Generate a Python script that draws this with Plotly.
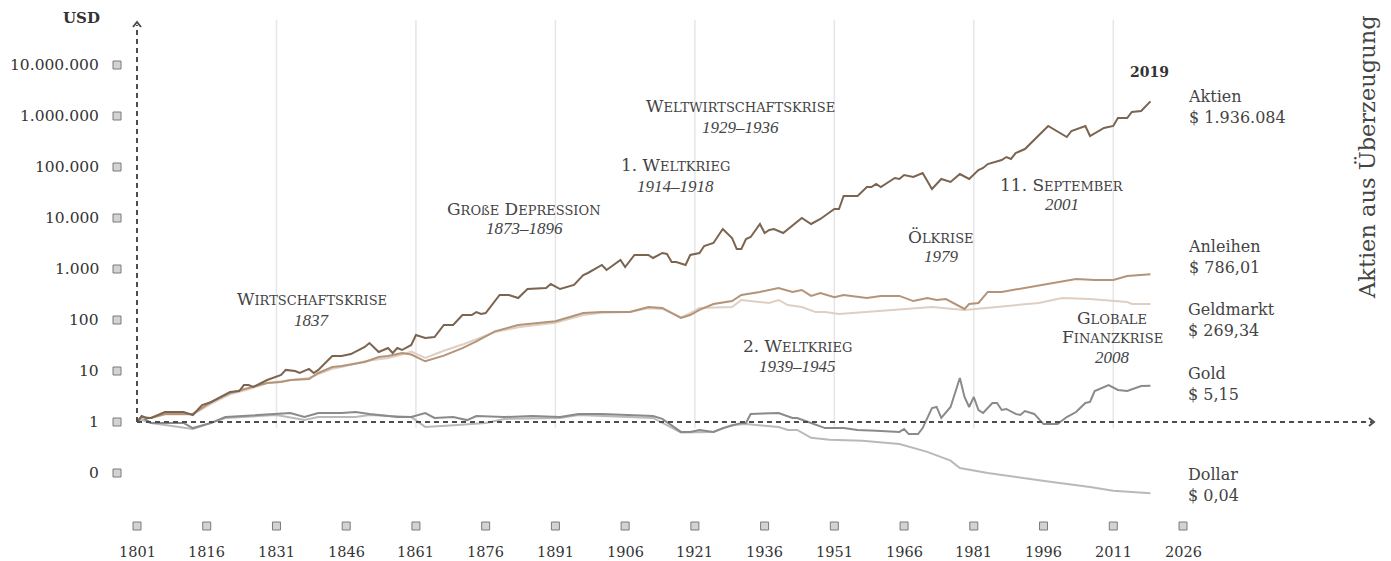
import math
import plotly.graph_objects as go

# ---------------- data ----------------
aktien_years = [1801,1802,1803,1804,1807,1811,1813,1815,1817,1821,
                1823,1824,1825,1826,1829,1832,1833,1835,1836,1838,
                1839,1840,1843,1845,1847,1850,1851,1853,1855,1856,
                1857,1858,1860,1861,1863,1865,1867,1869,1871,1873,
                1874,1875,1876,1879,1881,1883,1885,1889,1890,1892,
                1895,1897,1898,1901,1902,1905,1906,1908,1911,1912,
                1914,1915,1916,1917,1919,1920,1922,1923,1925,1927,
                1929,1930,1931,1932,1933,1935,1936,1937,1938,1940,
                1944,1946,1948,1951,1952,1953,1956,1958,1959,1960,
                1961,1964,1965,1966,1968,1970,1972,1974,1976,1978,
                1980,1982,1983,1984,1987,1988,1989,1990,1992,1997,
                2001,2002,2005,2006,2009,2011,2012,2014,2015,2017,
                2019]
aktien_values = [1.0,1.31,1.2,1.2,1.57,1.57,1.37,2.15,2.47,3.88,
                 4.05,5.31,5.31,4.86,6.66,8.35,10.5,10.0,9.14,11.0,
                 9.14,10.5,19.7,19.7,21.5,29.6,35.4,23.6,28.2,22.5,
                 28.2,25.8,32.4,50.8,44.4,46.4,79.8,79.8,125,125,
                 143,131,137,309,309,270,405,424,508,405,
                 486,763,835,1198,956,1501,1094,1882,1882,1643,
                 2060,1968,1372,1372,1198,1882,2060,2827,3236,6086,
                 4053,2467,2467,3875,4240,7630,5080,5820,6086,5080,
                 10000,7630,9560,15000,15000,27000,27000,40500,40500,46400,
                 40500,60900,58200,69700,63700,76300,37000,58200,50800,72900,
                 58200,87400,95600,114000,137000,157000,144000,188000,225000,637000,
                 387000,508000,637000,405000,582000,637000,914000,914000,1198000,1250000,
                 1936084]

anleihen_years = [1801,1802,1804,1807,1813,1817,1821,1825,1829,1832,
                  1834,1838,1840,1843,1845,1850,1853,1855,1858,1860,
                  1863,1867,1871,1874,1878,1883,1891,1897,1901,1907,
                  1911,1914,1918,1920,1922,1925,1929,1931,1935,1939,
                  1942,1944,1946,1948,1951,1953,1958,1961,1965,1968,
                  1971,1973,1975,1979,1980,1982,1984,1987,1993,1998,
                  2003,2007,2011,2014,2019]
anleihen_values = [1.0,1.25,1.2,1.44,1.44,2.47,3.7,4.64,5.81,6.08,
                   6.66,6.97,9.14,12.0,12.5,15.0,18.8,19.7,22.5,21.0,
                   15.5,20.0,28.0,38.0,60.0,80.0,95.0,137,143,143,
                   180,172,110,125,158,206,235,309,355,424,
                   355,388,297,338,281,309,270,297,297,235,
                   270,247,258,165,206,216,355,355,443,532,
                   638,610,610,730,786.01]

geldmarkt_years = [1801,1802,1804,1807,1813,1817,1821,1825,1829,1832,
                   1838,1840,1843,1845,1850,1853,1855,1858,1860,1863,
                   1867,1871,1874,1878,1883,1891,1897,1901,1907,1911,
                   1914,1918,1920,1922,1929,1931,1937,1939,1941,1944,
                   1947,1949,1952,1972,1979,1995,2000,2006,2014,2015,
                   2019]
geldmarkt_values = [1.0,1.2,1.2,1.4,1.4,2.3,3.5,4.4,5.8,6.3,
                    7.3,8.7,11.0,12.0,15.5,17.0,18.0,21.0,24.0,18.0,
                    25.0,33.0,42.0,58.0,72.0,88.0,125,138,143,170,
                    165,112,137,172,180,247,216,247,196,180,
                    143,143,131,180,157,216,270,258,225,206,
                    206]

gold_years = [1801,1802,1804,1808,1811,1813,1817,1820,1831,1834,
              1837,1840,1845,1848,1851,1857,1860,1863,1865,1869,
              1872,1874,1880,1886,1892,1896,1901,1912,1914,1918,
              1920,1922,1925,1927,1931,1932,1933,1939,1942,1943,
              1946,1949,1953,1956,1960,1965,1966,1967,1969,1970,
              1972,1973,1974,1976,1978,1979,1980,1981,1982,1983,
              1985,1986,1987,1988,1990,1991,1992,1994,1996,1999,
              2001,2003,2005,2006,2007,2008,2010,2012,2014,2017,
              2019]
gold_values = [1.0,1.25,0.96,0.96,0.96,0.76,0.96,1.25,1.44,1.5,
               1.25,1.5,1.5,1.57,1.44,1.25,1.25,1.5,1.2,1.25,
               1.09,1.31,1.25,1.31,1.25,1.44,1.44,1.31,1.15,0.64,
               0.64,0.70,0.64,0.76,0.955,0.955,1.44,1.5,1.2,1.2,
               0.955,0.76,0.76,0.70,0.67,0.64,0.73,0.58,0.58,0.76,
               1.88,1.97,1.2,1.97,7.3,3.09,1.97,3.09,1.72,1.5,
               2.36,2.36,1.72,1.8,1.44,1.37,1.64,1.44,0.91,0.91,
               1.25,1.57,2.36,2.47,4.05,4.43,5.3,4.24,4.05,5.08,
               5.15]

dollar_years = [1801,1802,1804,1813,1820,1831,1837,1840,1848,1851,
                1860,1863,1870,1876,1880,1892,1896,1912,1918,1922,
                1925,1929,1932,1939,1941,1943,1946,1950,1957,1965,
                1971,1976,1978,1984,1991,1997,2006,2011,2019]
dollar_values = [1.0,1.1,0.96,0.73,1.2,1.37,1.1,1.25,1.25,1.37,
                 1.25,0.8,0.87,0.96,1.15,1.2,1.37,1.2,0.62,0.64,
                 0.64,0.87,0.91,0.80,0.70,0.70,0.49,0.45,0.43,0.37,
                 0.26,0.175,0.125,0.10,0.08,0.068,0.053,0.045,0.04]

y_tick_values = [1e7, 1e6, 1e5, 1e4, 1e3, 100, 10, 1, 0.1]
y_tick_labels = ["10.000.000", "1.000.000", "100.000", "10.000", "1.000", "100", "10", "1", "0"]
x_tick_years = [1801, 1816, 1831, 1846, 1861, 1876, 1891, 1906, 1921, 1936, 1951, 1966, 1981, 1996, 2011, 2026]
x_tick_labels = [str(y) for y in x_tick_years]
grid_years = [1831, 1861, 1891, 1921, 1951, 1981, 2011]

end_labels = [("Aktien", "$ 1.936.084"), ("Anleihen", "$ 786,01"), ("Geldmarkt", "$ 269,34"),
              ("Gold", "$ 5,15"), ("Dollar", "$ 0,04")]

# event titles as lines (rendered in small caps)
events = [(["Wirtschaftskrise"], "1837"), (["Große Depression"], "1873–1896"),
          (["1. Weltkrieg"], "1914–1918"), (["Weltwirtschaftskrise"], "1929–1936"),
          (["2. Weltkrieg"], "1939–1945"), (["Ölkrise"], "1979"),
          (["11. September"], "2001"), (["Globale", "Finanzkrise"], "2008")]

# ---------------- geometry helpers (layout only) ----------------
W, H = 1391, 561
X0_PIX = 137                # pixel column of 1801
PXY = 1046 / 225.0          # pixels per year
PXD = 51.0                  # pixels per decade
Y1_PIX = 422                # pixel row of value 1


def X(px):
    return 1801 + (px - X0_PIX) / PXY


def LG(py):
    return (Y1_PIX - py) / PXD


def PP(py):
    return (H - py) / H


def small_caps(text, small=13):
    out = []
    for word in text.split(" "):
        if not word[0].isalpha():
            out.append(word)
            continue
        first, rest = word[0], word[1:]
        if rest:
            rest_up = "".join("ß" if c == "ß" else c.upper() for c in rest)
            out.append(f"{first}<span style='font-size:{small}px'>{rest_up}</span>")
        else:
            out.append(first)
    return " ".join(out)


FONT = "DejaVu Serif"
IFONT = "Liberation Serif"
TXT = "#444444"

fig = go.Figure()

series = [
    ("Dollar", dollar_years, dollar_values, "#b9b9b9"),
    ("Gold", gold_years, gold_values, "#8a8a8a"),
    ("Geldmarkt", geldmarkt_years, geldmarkt_values, "#dfcfc2"),
    ("Anleihen", anleihen_years, anleihen_values, "#b39479"),
    ("Aktien", aktien_years, aktien_values, "#7b6450"),
]
for name, xs, ys, col in series:
    fig.add_trace(go.Scatter(x=xs, y=ys, mode="lines", name=name,
                             line=dict(color=col, width=2), hoverinfo="skip"))

# tick squares
sq = dict(symbol="square", size=8, color="#d3d3d3", line=dict(color="#7a7a7a", width=1))
fig.add_trace(go.Scatter(x=[X(117)] * len(y_tick_values), y=y_tick_values, mode="markers",
                         marker=sq, cliponaxis=False, hoverinfo="skip"))
fig.add_trace(go.Scatter(x=x_tick_years, y=[10 ** LG(526)] * len(x_tick_years), mode="markers",
                         marker=sq, cliponaxis=False, hoverinfo="skip"))

shapes = []
for gy in grid_years:
    shapes.append(dict(type="line", xref="x", yref="paper", x0=gy, x1=gy, y0=PP(428), y1=PP(20),
                       line=dict(color="#e6e6e6", width=1.5), layer="below"))
dash = dict(color="#4d4d4d", width=2, dash="5px,4px")
shapes.append(dict(type="line", xref="x", yref="paper", x0=1801, x1=1801, y0=PP(422), y1=PP(25),
                   line=dash))
shapes.append(dict(type="line", xref="x", yref="paper", x0=1801, x1=X(1372), y0=PP(422), y1=PP(422),
                   line=dash))
shapes.append(dict(type="path", xref="x", yref="paper",
                   path=f"M {X(133)},{PP(27)} L {X(137)},{PP(22)} L {X(141)},{PP(27)}",
                   line=dict(color="#4d4d4d", width=2)))
shapes.append(dict(type="path", xref="x", yref="paper",
                   path=f"M {X(1369)},{PP(418)} L {X(1374)},{PP(422)} L {X(1369)},{PP(426)}",
                   line=dict(color="#4d4d4d", width=2)))

ann = []
for v, lab in zip(y_tick_values, y_tick_labels):
    ann.append(dict(x=X(101), y=math.log10(v), xref="x", yref="y", text=lab, showarrow=False,
                    xanchor="right", yanchor="middle", font=dict(family=FONT, size=15.5, color="#333333")))
for yr, lab in zip(x_tick_years, x_tick_labels):
    ann.append(dict(x=yr, y=LG(552), xref="x", yref="y", text=lab, showarrow=False,
                    xanchor="center", yanchor="middle", font=dict(family=FONT, size=14.5, color="#333333")))
ann.append(dict(x=X(102), y=LG(18), xref="x", yref="y", text="<b>USD</b>", showarrow=False,
                xanchor="right", yanchor="middle", font=dict(family=FONT, size=15, color="#333333")))
ann.append(dict(x=X(1149), y=LG(72), xref="x", yref="y", text="<b>2019</b>", showarrow=False,
                xanchor="center", yanchor="middle", font=dict(family=FONT, size=14, color="#333333")))

end_pix = [107, 257, 320, 384, 485]
for (a, b), py in zip(end_labels, end_pix):
    ann.append(dict(x=X(1186), y=LG(py), xref="x", yref="y", text=f"{a}<br>{b}", showarrow=False,
                    xanchor="left", yanchor="middle", align="left",
                    font=dict(family=FONT, size=16, color=TXT)))

ann.append(dict(x=X(1367), y=LG(157), xref="x", yref="y", text="Aktien aus Überzeugung", showarrow=False,
                textangle=-90, xanchor="center", yanchor="middle",
                font=dict(family=FONT, size=22.5, color=TXT)))

# (center x pixel, first title line pixel, year line pixel)
event_pos = [(312, 299, 320), (524, 209, 228), (675, 165, 186), (740, 106, 127),
             (797, 346, 366), (941, 237, 256), (1062, 185, 204), (1112, 318, 357)]
for (lines, yrs), (px, pt, pyr) in zip(events, event_pos):
    for i, line in enumerate(lines):
        ann.append(dict(x=X(px), y=LG(pt + 19 * i), xref="x", yref="y", text=small_caps(line),
                        showarrow=False, xanchor="center", yanchor="middle",
                        font=dict(family=FONT, size=17, color=TXT)))
    ann.append(dict(x=X(px), y=LG(pyr), xref="x", yref="y", text=f"<i>{yrs}</i>", showarrow=False,
                    xanchor="center", yanchor="middle",
                    font=dict(family=IFONT, size=17, color=TXT)))

fig.update_layout(
    width=W, height=H,
    margin=dict(l=0, r=0, t=0, b=0, pad=0),
    paper_bgcolor="white", plot_bgcolor="white",
    showlegend=False,
    xaxis=dict(range=[X(0), X(W)], showgrid=False, zeroline=False, showticklabels=False,
               showline=False, ticks=""),
    yaxis=dict(type="log", range=[LG(H), LG(0)], showgrid=False, zeroline=False,
               showticklabels=False, showline=False, ticks=""),
    shapes=shapes, annotations=ann,
)

fig.write_html("out.html", config={"displayModeBar": False},
               post_script="document.body.style.margin='0';")
